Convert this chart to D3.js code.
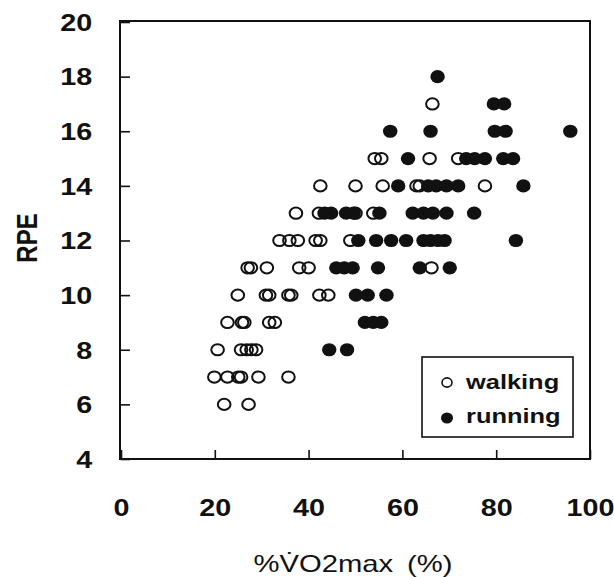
<!DOCTYPE html>
<html>
<head>
<meta charset="utf-8">
<script src="https://cdn.jsdelivr.net/npm/d3@7/dist/d3.min.js"></script>
<style>
  html, body { margin: 0; padding: 0; background: #fff; }
  svg { display: block; }
  text { font-family: "Liberation Sans", Arial, Helvetica, sans-serif; fill: #111; }
</style>
</head>
<body>
<svg id="chart" width="614" height="577"></svg>
<script>
// %VO2max (x) and RPE (y) for each trial
const walking = [
  [22.0, 6], [27.2, 6],
  [19.9, 7], [22.7, 7], [25.0, 7], [25.6, 7], [29.3, 7], [35.7, 7],
  [20.6, 8], [25.6, 8], [26.8, 8], [27.8, 8], [28.8, 8],
  [22.7, 9], [25.8, 9], [26.3, 9], [31.6, 9], [32.8, 9],
  [24.9, 10], [30.9, 10], [31.6, 10], [35.7, 10], [36.3, 10], [42.3, 10], [44.2, 10],
  [27.0, 11], [27.7, 11], [31.1, 11], [38.0, 11], [40.0, 11], [66.2, 11],
  [33.8, 12], [35.9, 12], [37.7, 12], [41.5, 12], [42.5, 12], [48.9, 12],
  [37.3, 13], [42.2, 13], [50.0, 13], [53.8, 13],
  [42.5, 14], [50.0, 14], [55.8, 14], [63.0, 14], [63.7, 14], [77.6, 14],
  [54.1, 15], [55.5, 15], [65.8, 15], [71.9, 15],
  [66.4, 17]
];

const running = [
  [44.4, 8], [48.2, 8],
  [52.0, 9], [53.8, 9], [55.5, 9],
  [50.1, 10], [52.6, 10], [56.6, 10],
  [45.9, 11], [47.6, 11], [49.4, 11], [54.8, 11], [63.7, 11], [70.1, 11],
  [50.6, 12], [54.4, 12], [57.6, 12], [60.8, 12], [64.5, 12], [66.0, 12], [67.6, 12], [69.0, 12], [84.2, 12],
  [43.4, 13], [44.8, 13], [48.0, 13], [49.6, 13], [55.1, 13], [62.2, 13], [64.5, 13], [66.5, 13], [69.4, 13], [75.3, 13],
  [59.1, 14], [65.5, 14], [67.2, 14], [69.4, 14], [71.9, 14], [85.8, 14],
  [61.2, 15], [73.6, 15], [75.4, 15], [77.6, 15], [81.5, 15], [83.6, 15],
  [57.4, 16], [66.0, 16], [79.7, 16], [82.0, 16], [95.8, 16],
  [79.5, 17], [81.7, 17],
  [67.5, 18]
];

const xTicks = [0, 20, 40, 60, 80, 100];
const yTicks = [4, 6, 8, 10, 12, 14, 16, 18, 20];
const legendLabels = ["walking", "running"];
const xTitle = "%V\u0307O2max\u2009 (%)";
const yTitle = "RPE";

const svg = d3.select("#chart");
const x = d3.scaleLinear().domain([0, 100]).range([121, 590]);
const y = d3.scaleLinear().domain([4, 20]).range([459, 22]);

// glyphs in this figure are drawn a little wide
const SX = 1.25;

// x axis (ticks point inward)
const gx = svg.append("g")
  .attr("transform", `translate(0,${y(4)})`)
  .call(d3.axisBottom(x).tickValues(xTicks).tickSize(-9).tickFormat(d3.format("d")));
gx.select(".domain").remove();
gx.selectAll(".tick line").attr("stroke", "#111").attr("stroke-width", 1.6);
gx.selectAll(".tick text")
  .attr("y", 57).attr("dy", 0)
  .attr("transform", `scale(${SX},1)`)
  .style("font-size", "23px").style("font-weight", "bold")
  .style("fill", "#111");

// y axis (ticks point inward)
const gy = svg.append("g")
  .attr("transform", `translate(${x(0)},0)`)
  .call(d3.axisLeft(y).tickValues(yTicks).tickSize(-9).tickFormat(d3.format("d")));
gy.select(".domain").remove();
gy.selectAll(".tick line").attr("stroke", "#111").attr("stroke-width", 1.6);
gy.selectAll(".tick text")
  .attr("x", -23).attr("dy", "0.36em")
  .attr("transform", `scale(${SX},1)`)
  .style("font-size", "23px").style("font-weight", "bold")
  .style("fill", "#111");

// plot frame
svg.append("rect")
  .attr("x", x(0) - 1).attr("y", y(20) - 1)
  .attr("width", x(100) - x(0) + 1).attr("height", y(4) - y(20) + 1)
  .attr("fill", "none").attr("stroke", "#111").attr("stroke-width", 2);

// walking: open markers
svg.append("g").selectAll("ellipse")
  .data(walking).join("ellipse")
  .attr("cx", d => x(d[0])).attr("cy", d => y(d[1]))
  .attr("rx", 6.3).attr("ry", 5.6)
  .attr("fill", "none").attr("stroke", "#111").attr("stroke-width", 2);

// running: filled markers
svg.append("g").selectAll("ellipse")
  .data(running).join("ellipse")
  .attr("cx", d => x(d[0])).attr("cy", d => y(d[1]))
  .attr("rx", 7.2).attr("ry", 6.6)
  .attr("fill", "#111");

// legend
const lg = svg.append("g");
lg.append("rect")
  .attr("x", 422).attr("y", 357).attr("width", 151).attr("height", 80)
  .attr("fill", "#fff").attr("stroke", "#111").attr("stroke-width", 1.6);
lg.append("ellipse").attr("cx", 447).attr("cy", 382.5).attr("rx", 5).attr("ry", 4.6)
  .attr("fill", "none").attr("stroke", "#111").attr("stroke-width", 1.6);
lg.append("ellipse").attr("cx", 447).attr("cy", 418).attr("rx", 6).attr("ry", 5.6)
  .attr("fill", "#111");
lg.selectAll("text.lab").data(legendLabels).join("text")
  .attr("class", "lab")
  .attr("transform", (d, i) => `translate(466,${i === 0 ? 389 : 423}) scale(1.27,1)`)
  .style("font-size", "20px").style("font-weight", "bold")
  .text(d => d);

// axis titles
svg.append("text")
  .attr("transform", `translate(353,572) scale(1.27,1)`)
  .attr("text-anchor", "middle")
  .style("font-size", "23px")
  .text(xTitle);

svg.append("text")
  .attr("transform", `translate(26,238) scale(${SX},1) rotate(-90)`)
  .attr("text-anchor", "middle").attr("dy", "0.36em")
  .style("font-size", "24px").style("font-weight", "bold")
  .text(yTitle);
</script>
</body>
</html>
